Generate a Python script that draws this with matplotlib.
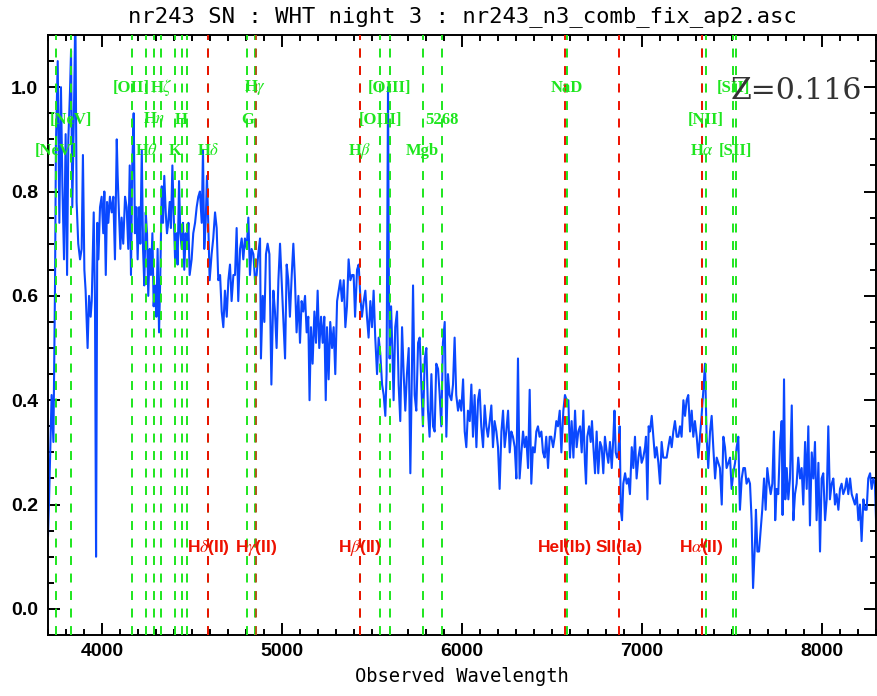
import numpy as np
import matplotlib
matplotlib.use("Agg")
import matplotlib.pyplot as plt
from matplotlib.ticker import MultipleLocator

# spectrum in pieces (observed wavelength, flux)
wave_1 = [3700, 3706, 3720, 3730, 3739, 3744, 3754, 3763, 3772, 3780,
          3789, 3798, 3806, 3813, 3822, 3828, 3835, 3844, 3852, 3859,
          3868, 3878, 3887, 3894, 3902, 3909, 3917, 3920, 3928, 3937,
          3943, 3954, 3961, 3967, 3974, 3980, 3989, 3998, 4007, 4013,
          4021, 4028, 4035, 4044, 4054, 4063, 4072, 4082, 4087, 4094,
          4102, 4109, 4118, 4128, 4137, 4146, 4154, 4161, 4168, 4176,
          4183, 4191, 4198, 4206, 4213, 4221, 4228, 4235, 4243, 4250,
          4257, 4265, 4272, 4280, 4287, 4294, 4302, 4309, 4317, 4324,
          4332, 4339, 4346, 4354, 4361, 4368, 4376, 4383, 4391, 4398,
          4406, 4413, 4420, 4428, 4435, 4443, 4450, 4457, 4465, 4472,
          4480, 4487, 4498, 4507, 4517, 4526, 4535, 4544, 4554, 4561,
          4568, 4576, 4583, 4591, 4598]
flux_1 = [0.14, 0.21, 0.41, 0.32, 0.62, 0.89, 1.05, 0.74, 1.00, 0.81,
          0.67, 0.91, 0.64, 0.90, 0.99, 1.07, 0.77, 0.95, 1.15, 0.78,
          0.70, 0.67, 0.69, 0.87, 0.65, 0.61, 0.53, 0.50, 0.60, 0.56,
          0.59, 0.76, 0.59, 0.10, 0.74, 0.67, 0.77, 0.79, 0.72, 0.80,
          0.64, 0.78, 0.74, 0.79, 0.76, 0.79, 0.67, 0.90, 0.83, 0.76,
          0.69, 0.75, 0.70, 0.79, 0.77, 0.69, 0.85, 0.64, 0.85, 0.95,
          0.72, 0.77, 0.67, 0.77, 0.70, 0.88, 0.69, 0.62, 0.76, 0.72,
          0.60, 0.69, 0.64, 0.72, 0.58, 0.62, 0.56, 0.69, 0.53, 0.64,
          0.81, 0.74, 0.83, 0.76, 0.72, 0.74, 0.78, 0.73, 0.85, 0.76,
          0.67, 0.72, 0.66, 0.82, 0.72, 0.69, 0.74, 0.65, 0.72, 0.69,
          0.74, 0.64, 0.67, 0.72, 0.74, 0.77, 0.79, 0.80, 0.74, 0.88,
          0.69, 0.74, 0.83, 0.73, 0.63]

wave_2 = [4609, 4618, 4628, 4637, 4646, 4656, 4665, 4674, 4683, 4693,
          4702, 4711, 4720, 4730, 4739, 4748, 4757, 4767, 4776, 4785,
          4794, 4804, 4813, 4822, 4831, 4841, 4850, 4859, 4868, 4878,
          4883, 4893, 4902, 4911, 4920, 4930, 4941, 4952, 4961, 4970,
          4980, 4989, 4998, 5007, 5017, 5026, 5035, 5044, 5054, 5063,
          5072, 5081, 5091, 5100, 5109, 5118, 5128, 5137, 5146, 5153,
          5161, 5170, 5180, 5189, 5198, 5207, 5217, 5226, 5235, 5243,
          5250, 5259, 5268, 5278, 5287, 5296, 5306, 5315, 5324, 5333,
          5343, 5352, 5361, 5370, 5380, 5389, 5398, 5406, 5417, 5426,
          5435, 5444, 5454, 5463, 5472, 5481, 5491, 5500, 5509, 5518,
          5528, 5537, 5546, 5556, 5565, 5574]
flux_2 = [0.68, 0.71, 0.76, 0.73, 0.63, 0.64, 0.57, 0.54, 0.61, 0.56,
          0.63, 0.66, 0.59, 0.64, 0.64, 0.73, 0.59, 0.69, 0.71, 0.67,
          0.71, 0.69, 0.75, 0.64, 0.69, 0.68, 0.63, 0.64, 0.68, 0.71,
          0.48, 0.60, 0.55, 0.68, 0.70, 0.68, 0.43, 0.61, 0.57, 0.50,
          0.63, 0.70, 0.63, 0.56, 0.48, 0.66, 0.63, 0.56, 0.64, 0.70,
          0.63, 0.53, 0.60, 0.51, 0.59, 0.57, 0.60, 0.53, 0.56, 0.40,
          0.54, 0.47, 0.57, 0.51, 0.61, 0.50, 0.56, 0.51, 0.56, 0.40,
          0.54, 0.44, 0.55, 0.50, 0.54, 0.45, 0.59, 0.61, 0.63, 0.59,
          0.63, 0.54, 0.58, 0.67, 0.63, 0.64, 0.64, 0.56, 0.65, 0.66,
          0.60, 0.56, 0.59, 0.61, 0.56, 0.52, 0.59, 0.54, 0.61, 0.52,
          0.45, 0.52, 0.49, 0.43, 0.41, 0.37]

wave_3 = [5581, 5589, 5594, 5598, 5606, 5613, 5620, 5629, 5639, 5648,
          5657, 5667, 5676, 5685, 5694, 5704, 5713, 5721, 5728, 5737,
          5746, 5756, 5765, 5774, 5783, 5793, 5802, 5811, 5820, 5830,
          5839, 5848, 5857, 5867, 5876, 5885, 5894, 5904, 5913, 5922,
          5931, 5941, 5950, 5959, 5968, 5978, 5987, 5996, 6006, 6015,
          6024, 6033, 6043, 6052, 6061, 6070, 6080, 6089, 6098, 6107,
          6117, 6126, 6135, 6144, 6154, 6163, 6172, 6181, 6191, 6200,
          6209, 6219, 6228, 6237, 6246, 6256, 6265, 6274, 6283, 6293,
          6302, 6311, 6320, 6330, 6339, 6348, 6357, 6367, 6376, 6385,
          6394, 6404, 6413, 6422, 6431, 6441, 6450, 6459, 6468, 6478,
          6487, 6496, 6506, 6515, 6524, 6533, 6543]
flux_3 = [0.45, 1.00, 0.61, 0.48, 0.58, 0.50, 0.40, 0.54, 0.57, 0.43,
          0.36, 0.54, 0.45, 0.38, 0.45, 0.50, 0.26, 0.44, 0.62, 0.41,
          0.38, 0.51, 0.52, 0.43, 0.35, 0.48, 0.50, 0.38, 0.33, 0.45,
          0.35, 0.34, 0.47, 0.46, 0.41, 0.35, 0.51, 0.55, 0.33, 0.45,
          0.41, 0.40, 0.43, 0.52, 0.41, 0.38, 0.40, 0.38, 0.44, 0.34,
          0.31, 0.38, 0.36, 0.43, 0.33, 0.41, 0.31, 0.40, 0.42, 0.35,
          0.31, 0.39, 0.35, 0.33, 0.36, 0.39, 0.31, 0.36, 0.34, 0.31,
          0.23, 0.34, 0.38, 0.31, 0.34, 0.38, 0.30, 0.34, 0.33, 0.31,
          0.25, 0.48, 0.25, 0.30, 0.34, 0.31, 0.33, 0.27, 0.42, 0.24,
          0.31, 0.30, 0.34, 0.35, 0.33, 0.34, 0.30, 0.29, 0.33, 0.27,
          0.33, 0.33, 0.31, 0.33, 0.36, 0.35, 0.38]

wave_4 = [6552, 6563, 6572, 6581, 6591, 6600, 6609, 6619, 6628, 6637,
          6646, 6656, 6665, 6674, 6683, 6689, 6696, 6706, 6715, 6722,
          6730, 6739, 6748, 6757, 6767, 6776, 6785, 6794, 6804, 6813,
          6822, 6832, 6841, 6847, 6854, 6861, 6869, 6876, 6882, 6889,
          6896, 6906, 6915, 6924, 6933, 6943, 6952, 6961, 6970, 6980,
          6989, 6998, 7007, 7017, 7022, 7030, 7037, 7044, 7054, 7063,
          7072, 7081, 7091, 7100, 7109, 7118, 7128, 7137, 7146, 7156,
          7165, 7174, 7183, 7193, 7202, 7211, 7220, 7230, 7239, 7248,
          7257, 7267, 7276, 7285, 7294, 7304, 7313, 7322, 7331, 7341,
          7350, 7359, 7368, 7378, 7387, 7396, 7406, 7415, 7424, 7433,
          7443, 7452, 7461, 7470, 7480, 7489, 7498, 7507, 7517, 7526]
flux_4 = [0.30, 0.38, 0.41, 0.40, 0.40, 0.29, 0.36, 0.29, 0.38, 0.31,
          0.34, 0.35, 0.30, 0.38, 0.28, 0.24, 0.33, 0.35, 0.32, 0.36,
          0.31, 0.26, 0.34, 0.26, 0.32, 0.31, 0.26, 0.33, 0.30, 0.28,
          0.32, 0.27, 0.33, 0.38, 0.30, 0.29, 0.30, 0.35, 0.19, 0.17,
          0.24, 0.26, 0.24, 0.25, 0.22, 0.31, 0.27, 0.33, 0.25, 0.29,
          0.31, 0.28, 0.29, 0.31, 0.33, 0.21, 0.35, 0.34, 0.37, 0.33,
          0.29, 0.31, 0.28, 0.24, 0.32, 0.29, 0.29, 0.29, 0.31, 0.33,
          0.31, 0.34, 0.36, 0.33, 0.33, 0.35, 0.33, 0.40, 0.37, 0.40,
          0.41, 0.34, 0.38, 0.33, 0.36, 0.33, 0.29, 0.33, 0.37, 0.42,
          0.47, 0.33, 0.27, 0.34, 0.37, 0.31, 0.25, 0.29, 0.28, 0.27,
          0.20, 0.33, 0.31, 0.27, 0.28, 0.29, 0.23, 0.26, 0.28, 0.31]

wave_5 = [7535, 7544, 7554, 7563, 7572, 7581, 7591, 7600, 7609, 7617,
          7628, 7633, 7641, 7650, 7659, 7668, 7678, 7687, 7696, 7706,
          7715, 7724, 7733, 7740, 7748, 7757, 7767, 7776, 7781, 7789,
          7796, 7804, 7813, 7822, 7832, 7841, 7850, 7859, 7868, 7878,
          7887, 7896, 7906, 7915, 7924, 7933, 7943, 7952, 7961, 7970,
          7980, 7989, 7998, 8007, 8017, 8026, 8035, 8044, 8054, 8063,
          8072, 8081, 8091, 8100, 8109, 8118, 8128, 8137, 8146, 8156,
          8165, 8174, 8183, 8193, 8202, 8211, 8220, 8230, 8239, 8248,
          8257, 8267, 8276, 8285, 8294, 8302]
flux_5 = [0.33, 0.19, 0.25, 0.27, 0.27, 0.24, 0.25, 0.24, 0.17, 0.04,
          0.13, 0.19, 0.11, 0.11, 0.15, 0.19, 0.25, 0.19, 0.27, 0.24,
          0.22, 0.24, 0.34, 0.17, 0.23, 0.22, 0.32, 0.36, 0.18, 0.44,
          0.21, 0.27, 0.21, 0.25, 0.39, 0.17, 0.22, 0.24, 0.29, 0.25,
          0.27, 0.20, 0.32, 0.23, 0.35, 0.16, 0.30, 0.25, 0.32, 0.17,
          0.28, 0.11, 0.25, 0.26, 0.17, 0.21, 0.35, 0.21, 0.24, 0.25,
          0.20, 0.22, 0.19, 0.23, 0.24, 0.22, 0.23, 0.25, 0.22, 0.25,
          0.22, 0.21, 0.20, 0.22, 0.17, 0.20, 0.13, 0.21, 0.19, 0.19,
          0.25, 0.26, 0.23, 0.25, 0.24, 0.15]

# host galaxy lines (green), observed position, label and text row
gal_wave = [3742, 3830, 4164, 4246, 4288, 4328, 4404, 4442, 4471, 4588,
            4807, 4852, 5432, 5545, 5598, 5782, 5889, 6585, 7332, 7354,
            7506, 7521]
gal_label = ['[NeV]', '[NeV]', '[OII]', r'H$\theta$', r'H$\eta$', r'H$\zeta$',
             'K', 'H', '', r'H$\delta$', 'G', r'H$\gamma$', r'H$\beta$',
             '[OIII]', '[OIII]', 'Mgb', '5268', 'NaD', r'H$\alpha$', '[NII]',
             '[SII]', '[SII]']
gal_row = [3, 2, 1, 3, 2, 1, 3, 2, 1, 3, 2, 1, 3, 2, 1, 3, 2, 1, 3, 2, 1, 3]

# supernova features (red); the Hgamma one sits on the green line and looks brown
sn_wave = [4589, 4854, 5433, 6572, 6874, 7332]
sn_label = [r'H$\delta$(II)', r'H$\gamma$(II)', r'H$\beta$(II)',
            'HeI(Ib)', 'SII(Ia)', r'H$\alpha$(II)']
sn_color = ['#ee1100', '#b0581a', '#ee1100', '#ee1100', '#ee1100', '#ee1100']

redshift = 0.116

wave = np.concatenate([wave_1, wave_2, wave_3, wave_4, wave_5])
flux = np.concatenate([flux_1, flux_2, flux_3, flux_4, flux_5])

green = '#1ee61e'
red = '#ee1100'
row_y = {1: 0.999, 2: 0.938, 3: 0.877}

fig = plt.figure(figsize=(8.77, 6.96), dpi=100)
ax = fig.add_axes([48 / 877, 61 / 696, 828 / 877, 600 / 696])

ax.plot(wave, flux, color='#0a48ff', lw=1.5, zorder=2)

for w in gal_wave:
    ax.axvline(w, color=green, lw=1.4, dashes=(4.6, 4.4), zorder=3)
for w, c in zip(sn_wave, sn_color):
    ax.axvline(w, color=c, lw=1.4, dashes=(4.6, 4.4), zorder=3)

for w, lab, r in zip(gal_wave, gal_label, gal_row):
    ax.text(w, row_y[r], lab, color=green, fontsize=12, ha='center', va='center',
            family='Liberation Serif', fontweight='bold', math_fontfamily='stix',
            zorder=4)
for w, lab in zip(sn_wave, sn_label):
    ax.text(w, 0.117, lab, color=red, fontsize=12.5, ha='center', va='center',
            family='Liberation Sans', fontweight='bold', math_fontfamily='stix',
            zorder=4)

ax.text(7490, 0.978, 'Z=%.3f' % redshift, family='DejaVu Serif', fontsize=21.5,
        color='#333333', va='baseline', ha='left', zorder=5)

ax.set_xlim(3700, 8300)
ax.set_ylim(-0.05, 1.1)
ax.xaxis.set_major_locator(MultipleLocator(1000))
ax.xaxis.set_minor_locator(MultipleLocator(100))
ax.yaxis.set_major_locator(MultipleLocator(0.2))
ax.yaxis.set_minor_locator(MultipleLocator(0.05))
ax.yaxis.set_major_formatter(plt.FuncFormatter(lambda v, p: '%.1f' % v))
ax.tick_params(which='both', direction='in', top=True, right=True, width=1.4)
ax.tick_params(which='major', length=8.6)
ax.tick_params(which='minor', length=4.0)
ax.tick_params(axis='x', pad=6)
ax.tick_params(axis='y', pad=7)
for lab in ax.get_xticklabels() + ax.get_yticklabels():
    lab.set_family('Liberation Sans')
    lab.set_fontweight('bold')
    lab.set_fontsize(14)
for sp in ax.spines.values():
    sp.set_linewidth(1.4)

ax.set_title('nr243 SN : WHT night 3 : nr243_n3_comb_fix_ap2.asc',
             family='DejaVu Sans Mono', fontsize=16, pad=9)
ax.set_xlabel('Observed Wavelength', family='DejaVu Sans Mono', fontsize=13.5, labelpad=5)

fig.savefig('out.png', dpi=100)
